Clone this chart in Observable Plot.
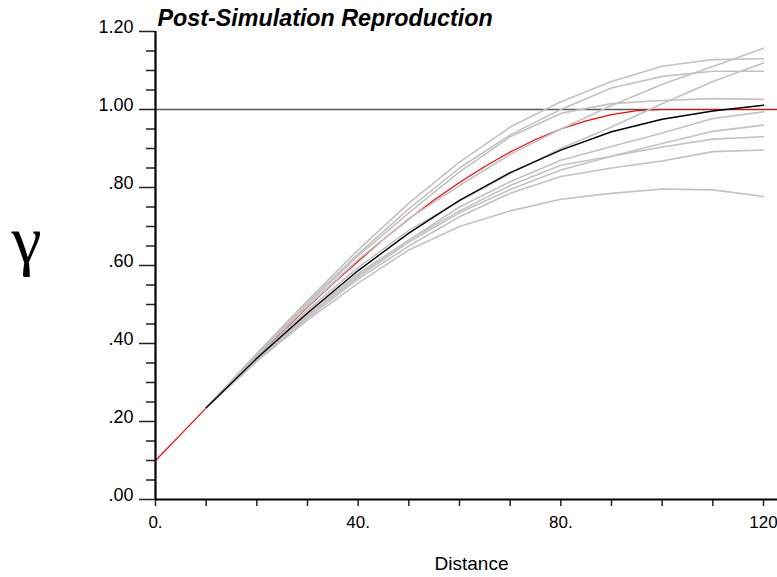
<!DOCTYPE html>
<html>
<head>
<meta charset="utf-8">
<script src="https://cdn.jsdelivr.net/npm/d3@7"></script>
<script src="https://cdn.jsdelivr.net/npm/@observablehq/plot@0.6"></script>
<style>
  html, body { margin: 0; padding: 0; background: #fff; }
</style>
</head>
<body>
<div id="chart"></div>
<script>
// ---- data ----
const lags = [10, 20, 30, 40, 50, 60, 70, 80, 90, 100, 110, 120];

const simA = [.235, .375, .510, .640, .760, .865, .955, 1.020, 1.072, 1.111, 1.128, 1.130];
const simB = [.235, .372, .505, .630, .745, .850, .935, 1.000, 1.055, 1.085, 1.098, 1.098];
const simC = [.235, .370, .495, .615, .720, .805, .885, .950, 1.010, 1.065, 1.110, 1.157];
const simD = [.235, .365, .485, .595, .690, .765, .835, .900, .955, 1.015, 1.072, 1.119];
const simE = [.235, .370, .500, .625, .735, .840, .930, .990, 1.015, 1.023, 1.028, 1.026];
const simF = [.235, .360, .470, .575, .665, .750, .815, .870, .905, .940, .977, .994];
const simG = [.235, .360, .470, .570, .660, .735, .795, .845, .880, .913, .944, .960];
const simH = [.235, .360, .475, .580, .665, .740, .805, .857, .880, .904, .924, .930];
const simI = [.235, .355, .465, .565, .650, .725, .785, .828, .850, .868, .892, .896];
const simJ = [.235, .355, .460, .555, .640, .700, .740, .770, .785, .796, .794, .777];

const meanSim = [.235, .362, .478, .587, .683, .767, .838, .896, .943, .975, .996, 1.011];

const modelDist  = [0, 5, 10, 15, 20, 25, 30, 35, 40, 45, 50, 55, 60, 65, 70, 75, 80, 85, 90, 95, 100, 110, 125];
const modelGamma = [.100, .167, .235, .301, .366, .430, .493, .553, .611, .667, .719, .768, .813, .854, .891, .923, .950, .971, .987, .997, 1.000, 1.000, 1.000];

const sill = [1.0];

const xMajor = [0, 40, 80, 120];
const xLabels = ["0.", "40.", "80.", "120"];
const xMinor = [10, 20, 30, 50, 60, 70, 90, 100, 110];

const yMajor = [0, 0.2, 0.4, 0.6, 0.8, 1.0, 1.2];
const yLabels = [".00", ".20", ".40", ".60", ".80", "1.00", "1.20"];
const yMinor = [0.05, 0.10, 0.15, 0.25, 0.30, 0.35, 0.45, 0.50, 0.55, 0.65, 0.70, 0.75, 0.85, 0.90, 0.95, 1.05, 1.10, 1.15];

const titleText = "Post-Simulation Reproduction";
const xTitle = "Distance";
const yTitle = "γ";

// ---- tables built from the arrays ----
const sims = {simA, simB, simC, simD, simE, simF, simG, simH, simI, simJ};
const simRows = Object.entries(sims).flatMap(([name, vals]) =>
  vals.map((v, i) => ({sim: name, d: lags[i], g: v})));
const meanRows = meanSim.map((v, i) => ({d: lags[i], g: v}));
const modelRows = modelGamma.map((v, i) => ({d: modelDist[i], g: v}));
const xLabelMap = new Map(xMajor.map((d, i) => [d, xLabels[i]]));
const yLabelRows = yMajor.map((d, i) => ({v: d, label: yLabels[i]}));

const chart = Plot.plot({
  width: 777,
  height: 577,
  marginLeft: 155,
  marginRight: 0,
  marginTop: 31,
  marginBottom: 78,
  style: {fontFamily: "'Liberation Sans', Arial, Helvetica, sans-serif", background: "#fff", color: "#000"},
  x: {domain: [0, 122.76]},
  y: {domain: [0, 1.2]},
  marks: [
    Plot.ruleY(sill, {stroke: "#5a5a5a", strokeWidth: 1.6}),
    Plot.line(modelRows, {x: "d", y: "g", stroke: "#ff0000", strokeWidth: 1.2, clip: true}),
    Plot.line(simRows, {x: "d", y: "g", z: "sim", stroke: "#c2c2c2", strokeWidth: 1.6}),
    Plot.line(meanRows, {x: "d", y: "g", stroke: "#000", strokeWidth: 1.4}),
    // axes
    Plot.axisY(yMinor, {tickSize: 9, tickFormat: () => "", stroke: "#222", strokeWidth: 1.5, label: null}),
    Plot.axisY(yMajor, {tickSize: 16, tickFormat: () => "", stroke: "#222", strokeWidth: 1.5, label: null}),
    Plot.text(yLabelRows, {y: "v", text: "label", frameAnchor: "left", textAnchor: "end", lineAnchor: "bottom", dx: -22, dy: 1, fontSize: 18}),
    Plot.axisX(xMinor, {tickSize: 7, tickFormat: () => "", stroke: "#222", strokeWidth: 1.5, label: null}),
    Plot.axisX(xMajor, {tickSize: 7, tickPadding: 9, tickFormat: d => xLabelMap.get(d), fontSize: 17, stroke: "#222", strokeWidth: 1.5, label: null}),
    Plot.ruleX([0], {stroke: "#000", strokeWidth: 2.2}),
    Plot.ruleY([0], {stroke: "#000", strokeWidth: 2.2}),
    // titles
    Plot.text([titleText], {text: d => d, frameAnchor: "top-left", textAnchor: "start", lineAnchor: "bottom", dx: 2, dy: -6, fontSize: 23.3, fontWeight: "bold", fontStyle: "italic"}),
    Plot.text([xTitle], {text: d => d, frameAnchor: "bottom", textAnchor: "middle", lineAnchor: "bottom", dx: 5, dy: 70, fontSize: 19}),
    Plot.text([yTitle], {text: d => d, frameAnchor: "left", textAnchor: "middle", lineAnchor: "bottom", dx: -129, dy: -3, fontSize: 68, fontFamily: "'Liberation Serif', 'DejaVu Serif', serif"})
  ]
});
document.getElementById("chart").appendChild(chart);
</script>
</body>
</html>
